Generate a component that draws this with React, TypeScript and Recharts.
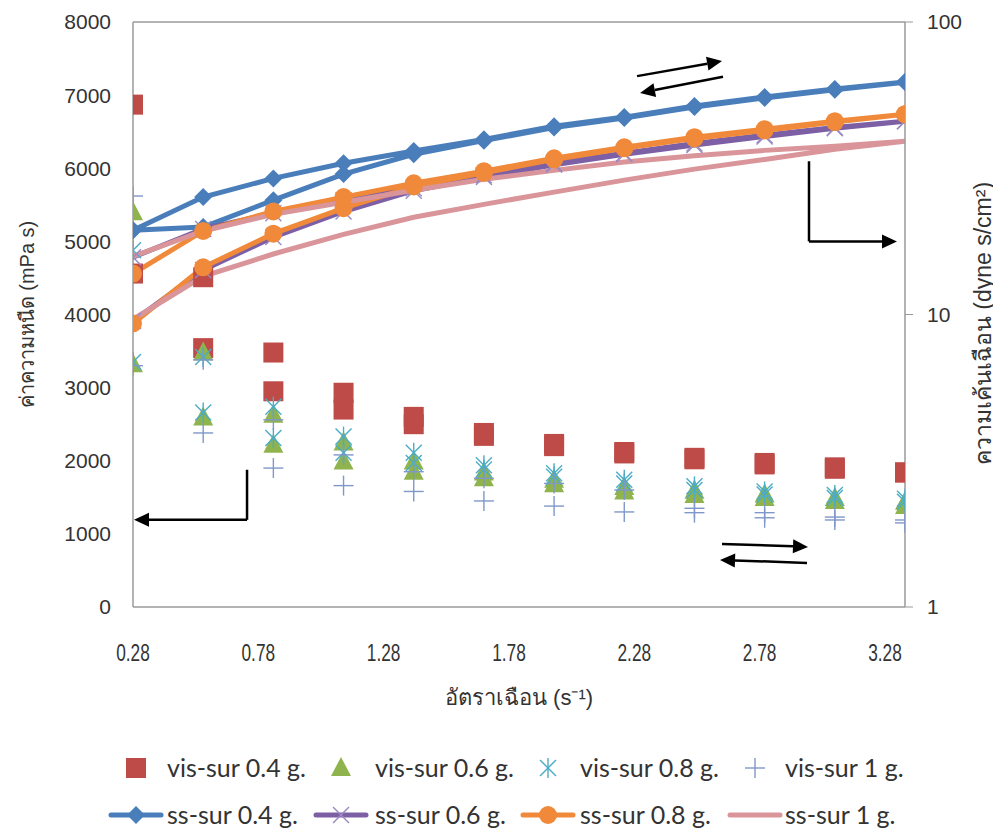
import React from 'react';
import { ComposedChart, Line, Scatter, XAxis, YAxis, ReferenceLine, Legend } from 'recharts';

// shear rate (s-1), same 12 steps going up and coming back down
const shearRate = [0.28, 0.56, 0.84, 1.12, 1.4, 1.68, 1.96, 2.24, 2.52, 2.8, 3.08, 3.36];
const xTicks = [0.28, 0.78, 1.28, 1.78, 2.28, 2.78, 3.28];
const visTicks = [0, 1000, 2000, 3000, 4000, 5000, 6000, 7000, 8000];
const ssTicks = [1, 10, 100];

// viscosity (mPa s) - left axis
const vis04Up = [6870, 4510, 3480, 2930, 2600, 2380, 2230, 2120, 2040, 1970, 1910, 1840];
const vis04Down = [4560, 3540, 2950, 2700, 2500, 2340, 2200, 2100, 2020, 1950, 1890, 1840];
const vis06Up = [5400, 3480, 2630, 2250, 1990, 1840, 1740, 1640, 1590, 1540, 1490, 1440];
const vis06Down = [3320, 2590, 2220, 1990, 1850, 1760, 1680, 1580, 1530, 1490, 1450, 1380];
const vis08Up = [4880, 3420, 2740, 2330, 2110, 1940, 1830, 1740, 1650, 1580, 1530, 1480];
const vis08Down = [3350, 2660, 2310, 2110, 1970, 1880, 1780, 1690, 1600, 1540, 1490, 1440];
const vis10Up = [5620, 3380, 2560, 2080, 1850, 1760, 1690, 1600, 1350, 1290, 1230, 1190];
const vis10Down = [3300, 2380, 1900, 1660, 1580, 1450, 1380, 1300, 1290, 1220, 1190, 1150];

// shear stress (dyne s/cm2) - right log axis
const ss04Up = [19.4, 25.2, 29.2, 32.9, 36.2, 39.7, 44.0, 47.3, 51.6, 55.4, 59.0, 62.3];
const ss04Down = [19.4, 19.9, 24.6, 30.2, 35.3, 39.3, 43.6, 47.0, 51.2, 55.0, 58.7, 62.3];
const ss06Up = [15.7, 19.6, 22.2, 24.6, 27.0, 29.9, 32.9, 35.6, 38.4, 41.0, 43.6, 45.8];
const ss06Down = [9.5, 14.2, 18.4, 22.5, 26.5, 29.5, 32.5, 35.3, 38.0, 40.6, 43.3, 45.8];
const ss08Up = [13.8, 19.3, 22.5, 25.2, 28.1, 30.9, 34.2, 37.3, 40.4, 43.0, 45.8, 48.4];
const ss08Down = [9.32, 14.5, 18.9, 23.1, 27.4, 30.5, 33.9, 37.0, 40.0, 42.6, 45.5, 48.4];
const ss10Up = [15.8, 19.3, 22.0, 24.2, 26.6, 29.0, 31.1, 33.2, 34.9, 36.4, 37.6, 39.1];
const ss10Down = [9.63, 13.5, 16.1, 18.8, 21.5, 23.8, 26.2, 28.8, 31.4, 33.9, 36.7, 39.1];

// arrow annotations: [x1, y1, x2, y2, head] in x / left-axis units
const arrows: [number, number, number, number, boolean][] = [
  [2.291, 7260, 2.63, 7466, true],
  [2.634, 7250, 2.303, 7030, true],
  [2.977, 6096, 2.977, 5000, false],
  [2.977, 5000, 3.328, 5000, true],
  [0.735, 1877, 0.735, 1192, false],
  [0.735, 1192, 0.284, 1192, true],
  [2.63, 863, 2.973, 822, true],
  [2.969, 603, 2.622, 644, true],
];

const visNames = ['vis-sur 0.4 g.', 'vis-sur 0.6 g.', 'vis-sur 0.8 g.', 'vis-sur 1 g.'];
const ssNames = ['ss-sur 0.4 g.', 'ss-sur 0.6 g.', 'ss-sur 0.8 g.', 'ss-sur 1 g.'];

const RED = '#BE4B48';
const GREEN = '#8FB44E';
const CYAN = '#4BACC6';
const PLUS = '#7F97C9';
const BLUE = '#4A7EBB';
const PURPLE = '#7D5FA6';
const PURPLE_MARK = '#9A8AC2';
const ORANGE = '#F08A3A';
const PINK = '#D9959A';
const AXIS = '#9A9A9A';
const TEXT = '#333';

const pts = (vals: number[]) => vals.map((y, i) => ({ x: shearRate[i], y }));
const scatterPts = (up: number[], down: number[]) => pts(up).concat(pts(down));
const loopPts = (up: number[], down: number[]) => pts(up).concat(pts(down).reverse());

function SquareMark({ cx, cy }: any) {
  return <rect x={cx - 10} y={cy - 10} width={20} height={20} fill={RED} />;
}
function TriangleMark({ cx, cy }: any) {
  return <polygon points={`${cx},${cy - 11} ${cx + 10},${cy + 8} ${cx - 10},${cy + 8}`} fill={GREEN} />;
}
function StarMark({ cx, cy }: any) {
  const r = 8;
  return (
    <g stroke={CYAN} strokeWidth={1.4}>
      <line x1={cx - r} y1={cy - r} x2={cx + r} y2={cy + r} />
      <line x1={cx - r} y1={cy + r} x2={cx + r} y2={cy - r} />
      <line x1={cx} y1={cy - r - 2} x2={cx} y2={cy + r + 2} />
    </g>
  );
}
function PlusMark({ cx, cy }: any) {
  const r = 10;
  return (
    <g stroke={PLUS} strokeWidth={1.4}>
      <line x1={cx - r} y1={cy} x2={cx + r} y2={cy} />
      <line x1={cx} y1={cy - r} x2={cx} y2={cy + r} />
    </g>
  );
}
function DiamondMark({ cx, cy }: any) {
  const r = 9;
  return <polygon points={`${cx},${cy - r} ${cx + r},${cy} ${cx},${cy + r} ${cx - r},${cy}`} fill={BLUE} />;
}
function CircleMark({ cx, cy }: any) {
  return <circle cx={cx} cy={cy} r={9} fill={ORANGE} />;
}
function XMark({ cx, cy }: any) {
  const r = 8;
  return (
    <g stroke={PURPLE_MARK} strokeWidth={1.4}>
      <line x1={cx - r} y1={cy - r} x2={cx + r} y2={cy + r} />
      <line x1={cx - r} y1={cy + r} x2={cx + r} y2={cy - r} />
    </g>
  );
}

const dotOf = (Mark: any) => (p: any) => <Mark key={`${p.index}-${p.cx}-${p.cy}`} cx={p.cx} cy={p.cy} />;

function Arrow(props: any) {
  const { x1, y1, x2, y2, head } = props;
  const a = Math.atan2(y2 - y1, x2 - x1);
  const L = 15;
  const W = 7;
  const bx = x2 - L * Math.cos(a);
  const by = y2 - L * Math.sin(a);
  return (
    <g>
      <line x1={x1} y1={y1} x2={head ? bx : x2} y2={head ? by : y2} stroke="#000" strokeWidth={2.5} />
      {head && (
        <polygon
          points={`${x2},${y2} ${bx + W * Math.sin(a)},${by - W * Math.cos(a)} ${bx - W * Math.sin(a)},${by + W * Math.cos(a)}`}
          fill="#000"
        />
      )}
    </g>
  );
}

// narrow looking x tick labels
function XTick({ x, y, payload }: any) {
  return (
    <g transform={`translate(${x},${y}) scale(0.72,1)`}>
      <text x={0} y={0} dy="0.71em" textAnchor="middle" fontSize={24} fill={TEXT}
        fontFamily="'Liberation Sans', Arial, sans-serif">
        {Number(payload.value).toFixed(2)}
      </text>
    </g>
  );
}

function LeftTitle({ viewBox }: any) {
  const x = viewBox.x + 19;
  const y = viewBox.y + viewBox.height / 2;
  return (
    <text x={x} y={y} transform={`rotate(-90 ${x} ${y})`} textAnchor="middle" dominantBaseline="central"
      fontSize={20} fill={TEXT} fontFamily="'Liberation Sans', sans-serif">
      ค่าความหนืด (mPa s)
    </text>
  );
}
function RightTitle({ viewBox }: any) {
  const x = viewBox.x + 78;
  const y = viewBox.y + viewBox.height / 2 + 9;
  return (
    <text x={x} y={y} transform={`rotate(-90 ${x} ${y})`} textAnchor="middle" dominantBaseline="central"
      fontSize={23} fill={TEXT} fontFamily="'Liberation Sans', sans-serif">
      ความเค้นเฉือน (dyne s/cm²)
    </text>
  );
}
function BottomTitle({ viewBox }: any) {
  const x = viewBox.x + viewBox.width / 2;
  const y = viewBox.y + 90;
  return (
    <text x={x} y={y} textAnchor="middle" dominantBaseline="central" fontSize={22} fill={TEXT}
      fontFamily="'Liberation Sans', sans-serif">
      อัตราเฉือน (s⁻¹)
    </text>
  );
}

function LegendBox() {
  const visMarks = [SquareMark, TriangleMark, StarMark, PlusMark];
  const ssMarks = [DiamondMark, XMark, CircleMark, null];
  const ssColors = [BLUE, PURPLE, ORANGE, PINK];
  const iconLeft = [100, 305, 512, 719];
  const textLeft = [159, 367, 572, 777];
  const txt: React.CSSProperties = {
    position: 'absolute', fontFamily: 'Lato, sans-serif', fontSize: 25, color: TEXT, lineHeight: '30px', whiteSpace: 'nowrap',
  };
  return (
    <div style={{ position: 'relative', width: 993, height: 84 }}>
      {visNames.map((n, i) => {
        const M = visMarks[i];
        return (
          <React.Fragment key={n}>
            <svg style={{ position: 'absolute', left: iconLeft[i] + 16, top: 8 }} width={24} height={24}>
              <M cx={12} cy={12} />
            </svg>
            <span style={{ ...txt, left: textLeft[i], top: 4 }}>{n}</span>
          </React.Fragment>
        );
      })}
      {ssNames.map((n, i) => {
        const M = ssMarks[i];
        return (
          <React.Fragment key={n}>
            <svg style={{ position: 'absolute', left: iconLeft[i], top: 55 }} width={56} height={24}>
              <line x1={3} y1={12} x2={53} y2={12} stroke={ssColors[i]} strokeWidth={5} strokeLinecap="round" />
              {M && <M cx={28} cy={12} />}
            </svg>
            <span style={{ ...txt, left: textLeft[i], top: 51 }}>{n}</span>
          </React.Fragment>
        );
      })}
    </div>
  );
}

const tickStyle = { fontSize: 21, fill: TEXT, fontFamily: "'Liberation Sans', Arial, sans-serif" };

export default function App() {
  return (
    <ComposedChart width={993} height={824} margin={{ top: 14, right: 0, left: 0, bottom: 0 }}>
      <XAxis
        type="number"
        dataKey="x"
        domain={[0.28, 3.36]}
        ticks={xTicks}
        allowDataOverflow
        height={141}
        tickSize={0}
        tickMargin={37}
        tick={<XTick />}
        axisLine={{ stroke: AXIS, strokeWidth: 1.5 }}
        label={<BottomTitle />}
      />
      <YAxis
        yAxisId="left"
        domain={[0, 8000]}
        ticks={visTicks}
        allowDataOverflow
        width={125}
        tickSize={0}
        tickMargin={22}
        tick={tickStyle}
        axisLine={{ stroke: AXIS, strokeWidth: 1.5 }}
        label={<LeftTitle />}
      />
      <YAxis
        yAxisId="right"
        orientation="right"
        scale="log"
        domain={[1, 100]}
        ticks={ssTicks}
        allowDataOverflow
        width={96}
        tickSize={8}
        tickMargin={14}
        tick={tickStyle}
        tickLine={{ stroke: AXIS }}
        axisLine={{ stroke: AXIS, strokeWidth: 1.5 }}
        label={<RightTitle />}
      />
      <ReferenceLine yAxisId="left" y={8000} stroke={AXIS} strokeWidth={1.5} />

      <Scatter yAxisId="left" dataKey="y" data={scatterPts(vis04Up, vis04Down)} shape={SquareMark} isAnimationActive={false} />
      <Scatter yAxisId="left" dataKey="y" data={scatterPts(vis06Up, vis06Down)} shape={TriangleMark} isAnimationActive={false} />
      <Scatter yAxisId="left" dataKey="y" data={scatterPts(vis08Up, vis08Down)} shape={StarMark} isAnimationActive={false} />
      <Scatter yAxisId="left" dataKey="y" data={scatterPts(vis10Up, vis10Down)} shape={PlusMark} isAnimationActive={false} />

      <Line yAxisId="right" dataKey="y" data={loopPts(ss04Up, ss04Down)} type="linear" stroke={BLUE} strokeWidth={5}
        dot={dotOf(DiamondMark)} activeDot={false} isAnimationActive={false} />
      <Line yAxisId="right" dataKey="y" data={loopPts(ss06Up, ss06Down)} type="linear" stroke={PURPLE} strokeWidth={5}
        dot={dotOf(XMark)} activeDot={false} isAnimationActive={false} />
      <Line yAxisId="right" dataKey="y" data={loopPts(ss08Up, ss08Down)} type="linear" stroke={ORANGE} strokeWidth={5}
        dot={dotOf(CircleMark)} activeDot={false} isAnimationActive={false} />
      <Line yAxisId="right" dataKey="y" data={loopPts(ss10Up, ss10Down)} type="linear" stroke={PINK} strokeWidth={5}
        dot={false} activeDot={false} isAnimationActive={false} />

      {arrows.map(([x1, y1, x2, y2, head], i) => (
        <ReferenceLine
          key={i}
          yAxisId="left"
          ifOverflow="visible"
          segment={[{ x: x1, y: y1 }, { x: x2, y: y2 }]}
          shape={(p: any) => <Arrow {...p} head={head} />}
        />
      ))}

      <Legend verticalAlign="bottom" content={() => <LegendBox />} wrapperStyle={{ left: 0, bottom: 0, width: 993, height: 84 }} />
    </ComposedChart>
  );
}
